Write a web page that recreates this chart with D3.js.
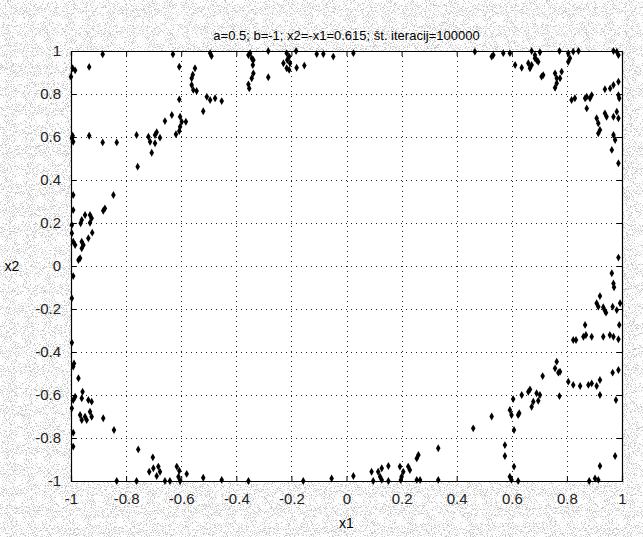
<!DOCTYPE html>
<html>
<head>
<meta charset="utf-8">
<script src="https://cdn.jsdelivr.net/npm/d3@7"></script>
<style>
  body { margin: 0; background: #fff; }
  svg { display: block; font-family: "Liberation Sans", Arial, sans-serif; }
</style>
</head>
<body>
<svg width="643" height="537"></svg>
<script>
const titleText = "a=0.5; b=-1; x2=-x1=0.615; št. iteracij=100000";
const xTicks = [-1, -0.8, -0.6, -0.4, -0.2, 0, 0.2, 0.4, 0.6, 0.8, 1];
const yTicks = [-1, -0.8, -0.6, -0.4, -0.2, 0, 0.2, 0.4, 0.6, 0.8, 1];

// iteration points, grouped by corner
const topLeft = [
  [-0.885,0.985],[-0.994,0.92],[-1.0,0.88],[-0.934,0.926],[-0.985,0.91],
  [-0.63,0.985],[-0.607,0.927],[-0.495,0.99],[-0.49,0.977],
  [-0.55,0.92],[-0.558,0.89],[-0.562,0.873],[-0.562,0.842],[-0.556,0.819],[-0.544,0.814],
  [-0.507,0.787],[-0.495,0.772],[-0.477,0.78],[-0.453,0.767],[-0.52,0.72],[-0.607,0.775],
  [-0.634,0.702],[-0.659,0.674],[-0.604,0.694],[-0.598,0.671],[-0.583,0.671],[-0.604,0.648],[-0.607,0.628],[-0.619,0.613],
  [-0.689,0.622],[-0.695,0.609],[-0.677,0.597],[-0.719,0.601],[-0.713,0.578],[-0.695,0.571],[-0.707,0.527],[-0.762,0.609],[-0.758,0.462],
  [-0.994,0.606],[-0.992,0.578],[-0.997,0.594],[-0.934,0.606],[-0.885,0.575],[-0.834,0.575]
];
const topMid = [
  [-0.35,0.99],[-0.344,0.966],[-0.338,0.958],[-0.356,0.981],[-0.34,0.935],
  [-0.338,0.896],[-0.344,0.873],[-0.356,0.845],[-0.353,0.826],
  [-0.284,1.0],[-0.284,0.878],
  [-0.217,0.99],[-0.208,0.974],[-0.215,0.958],[-0.229,0.943],[-0.205,0.943],[-0.217,0.92],[-0.208,0.912],
  [-0.183,1.0],[-0.181,0.922],[-0.153,0.932],
  [-0.108,0.986],[-0.084,0.986],[-0.048,0.974],[0.025,0.99]
];
const topRight = [
  [0.466,0.997],[0.527,0.974],[0.533,0.981],[0.569,0.99],[0.593,0.99],[0.612,0.935],[0.636,0.922],
  [0.66,0.943],[0.666,0.92],[0.672,0.935],
  [0.672,1.0],[0.684,0.981],[0.69,0.958],[0.684,0.966],[0.696,0.95],[0.702,0.994],
  [0.714,0.888],[0.708,0.881],[0.773,1.0],
  [0.757,0.896],[0.763,0.873],[0.781,0.904],[0.775,0.873],[0.763,0.85],[0.757,0.829],
  [0.805,0.99],[0.811,0.966],[0.823,0.997],[0.842,1.0],[0.805,0.95],
  [0.969,1.0],[0.981,0.997],[0.987,0.981],
  [0.987,0.857],[0.969,0.842],[0.957,0.826],[0.938,0.822],[0.987,0.795],[0.99,0.78],
  [0.817,0.772],[0.829,0.78],[0.866,0.78],[0.872,0.787],[0.89,0.795],[0.884,0.78],[0.872,0.733],
  [0.908,0.687],[0.914,0.664],[0.938,0.71],[0.944,0.694],[0.969,0.694],[0.981,0.718],[0.987,0.687],[0.92,0.633],[0.914,0.617],
  [0.969,0.609],[0.975,0.586],[0.963,0.54],[0.987,0.478]
];
const rightSide = [
  [0.987,0.039],[0.963,-0.034],[0.969,-0.081],[0.971,-0.099],
  [0.92,-0.14],[0.908,-0.173],[0.914,-0.189],[0.932,-0.192],[0.942,-0.217],[0.938,-0.208],
  [0.966,-0.189],[0.993,-0.173],[0.981,-0.205],[0.99,-0.274],
  [0.866,-0.274],[0.869,-0.321],[0.86,-0.329],[0.89,-0.329],[0.932,-0.329],[0.956,-0.321],[0.969,-0.329],[0.987,-0.341],
  [0.823,-0.344],[0.833,-0.344],[0.966,-0.496],[0.987,-0.484]
];
const bottomRight = [
  [0.805,-0.538],[0.823,-0.553],[0.848,-0.558],[0.878,-0.553],[0.89,-0.546],[0.908,-0.558],[0.92,-0.53],
  [0.92,-0.6],[0.978,-0.623],
  [0.763,-0.445],[0.757,-0.476],[0.769,-0.496],[0.775,-0.492],[0.773,-0.605],[0.712,-0.512],
  [0.66,-0.585],[0.666,-0.574],[0.69,-0.592],[0.696,-0.627],[0.678,-0.631],[0.672,-0.655],[0.702,-0.6],
  [0.636,-0.6],[0.605,-0.619],
  [0.593,-0.67],[0.599,-0.693],[0.623,-0.693],[0.627,-0.685],[0.608,-0.763],
  [0.527,-0.7],[0.46,-0.755],[0.575,-0.833],[0.575,-0.884],[0.608,-0.933],
  [0.593,-0.98],[0.599,-0.995],[0.623,-1.0],[0.92,-0.93],[0.975,-0.884],[0.881,-1.0],[0.902,-0.988],[0.914,-0.995]
];
const leftSide = [
  [-0.992,0.33],[-0.846,0.33],[-0.992,0.26],[-0.883,0.257],[-0.877,0.268],
  [-0.949,0.237],[-0.931,0.237],[-0.925,0.222],[-0.931,0.201],[-0.961,0.214],[-0.965,0.199],[-0.997,0.191],
  [-0.997,0.152],[-0.992,0.113],[-0.985,0.098],[-0.961,0.113],[-0.955,0.098],[-0.961,0.082],[-0.937,0.129],[-0.923,0.155],
  [-0.973,0.028],[-0.967,0.036],[-0.992,-0.047],[-0.997,-0.15],[-0.997,-0.357],
  [-0.989,-0.453],[-0.992,-0.468],[-0.973,-0.522],
  [-0.958,-0.585],[-0.961,-0.615],[-0.985,-0.608],[-0.992,-0.623],[-0.937,-0.623],[-0.925,-0.631],[-0.997,-0.662],
  [-0.931,-0.678],[-0.925,-0.701],[-0.949,-0.701],[-0.967,-0.693],[-0.961,-0.716],[-0.943,-0.716],[-0.883,-0.708],
  [-0.844,-0.763],[-0.992,-0.775],[-0.992,-0.84]
];
const bottomLeft = [
  [-0.756,-0.853],[-0.703,-0.89],[-0.716,-0.957],[-0.701,-0.941],[-0.683,-0.933],[-0.689,-0.977],[-0.677,-0.957],
  [-0.616,-0.933],[-0.607,-0.952],[-0.61,-0.98],[-0.604,-1.0],[-0.58,-0.967],
  [-0.834,-1.0],[-0.762,-1.0],[-0.659,-1.0],[-0.641,-1.0],[-0.52,-0.985],[-0.453,-0.995],[-0.356,-1.0]
];
const bottomMid = [
  [-0.157,-1.0],[-0.054,-0.988],[0.025,-0.977],
  [0.091,-0.957],[0.097,-1.0],[0.115,-0.957],[0.122,-0.98],[0.128,-0.995],[0.152,-1.0],[0.152,-0.93],[0.128,-0.941],
  [0.194,-0.933],[0.206,-0.957],[0.224,-0.933],[0.23,-0.949],[0.2,-0.98],[0.197,-0.995],
  [0.261,-0.879],[0.255,-0.895],[0.255,-0.995],[0.267,-0.995],[0.333,-0.848],[0.333,-0.995]
];

const points = [].concat(topLeft, topMid, topRight, rightSide, bottomRight, leftSide, bottomLeft, bottomMid);

const svg = d3.select("svg");
const width = 643, height = 537;
const margin = { left: 71, right: 21, top: 51, bottom: 56 };

// scanned paper look: speckled grey around the axes
const defs = svg.append("defs");
const filt = defs.append("filter").attr("id", "speckle")
  .attr("x", 0).attr("y", 0).attr("width", "100%").attr("height", "100%");
filt.append("feTurbulence")
  .attr("type", "fractalNoise")
  .attr("baseFrequency", 0.95)
  .attr("numOctaves", 2)
  .attr("seed", 7)
  .attr("result", "n");
filt.append("feColorMatrix")
  .attr("in", "n")
  .attr("type", "matrix")
  .attr("values", "0 0 0 0 0.55  0 0 0 0 0.55  0 0 0 0 0.55  9 0 0 0 -4.9");

svg.append("rect").attr("width", width).attr("height", height).attr("fill", "#fff");
svg.append("rect").attr("width", width).attr("height", height)
  .attr("filter", "url(#speckle)").attr("fill", "#fff");

const x = d3.scaleLinear().domain([-1, 1]).range([margin.left, width - margin.right]);
const y = d3.scaleLinear().domain([-1, 1]).range([height - margin.bottom, margin.top]);

// plot area
svg.append("rect")
  .attr("x", x(-1)).attr("y", y(1))
  .attr("width", x(1) - x(-1)).attr("height", y(-1) - y(1))
  .attr("fill", "#fff");

// dotted grid
const grid = svg.append("g").attr("stroke", "#222").attr("stroke-width", 1)
  .attr("stroke-dasharray", "1,4");
grid.selectAll(".gx").data(xTicks.slice(1, -1)).enter().append("line")
  .attr("x1", d => Math.round(x(d)) + 0.5).attr("x2", d => Math.round(x(d)) + 0.5)
  .attr("y1", y(1)).attr("y2", y(-1));
grid.selectAll(".gy").data(yTicks.slice(1, -1)).enter().append("line")
  .attr("y1", d => Math.round(y(d)) + 0.5).attr("y2", d => Math.round(y(d)) + 0.5)
  .attr("x1", x(-1)).attr("x2", x(1));

// axes with inward ticks (matlab style), on all four sides
const fmt = d => d === 0 ? "0" : String(d);
const axB = svg.append("g").attr("transform", `translate(0,${y(-1)})`)
  .call(d3.axisBottom(x).tickValues(xTicks).tickFormat(fmt).tickSize(-5).tickPadding(12));
const axL = svg.append("g").attr("transform", `translate(${x(-1)},0)`)
  .call(d3.axisLeft(y).tickValues(yTicks).tickFormat(fmt).tickSize(-5).tickPadding(10));
const axT = svg.append("g").attr("transform", `translate(0,${y(1)})`)
  .call(d3.axisTop(x).tickValues(xTicks).tickFormat("").tickSize(-5));
const axR = svg.append("g").attr("transform", `translate(${x(1)},0)`)
  .call(d3.axisRight(y).tickValues(yTicks).tickFormat("").tickSize(-5));
[axB, axL, axT, axR].forEach(a => {
  a.select(".domain").attr("stroke", "#000").attr("stroke-width", 1.2);
  a.selectAll(".tick line").attr("stroke", "#000");
  a.selectAll("text").attr("font-size", 15).attr("fill", "#222")
    .attr("font-family", "'Liberation Sans', Arial, sans-serif");
});

// points
const sym = d3.symbol().type(d3.symbolDiamond).size(18);
svg.append("g").selectAll("path").data(points).enter().append("path")
  .attr("d", sym)
  .attr("transform", d => `translate(${x(d[0])},${y(d[1])})`)
  .attr("fill", "#000");

// labels
svg.append("text").attr("x", (x(-1) + x(1)) / 2).attr("y", 40)
  .attr("text-anchor", "middle").attr("font-size", 13).attr("fill", "#000")
  .text(titleText);
svg.append("text").attr("x", x(0)).attr("y", 528)
  .attr("text-anchor", "middle").attr("font-size", 14).attr("fill", "#000")
  .text("x1");
svg.append("text").attr("x", 12).attr("y", y(0) + 5)
  .attr("text-anchor", "middle").attr("font-size", 14).attr("fill", "#000")
  .text("x2");
</script>
</body>
</html>
